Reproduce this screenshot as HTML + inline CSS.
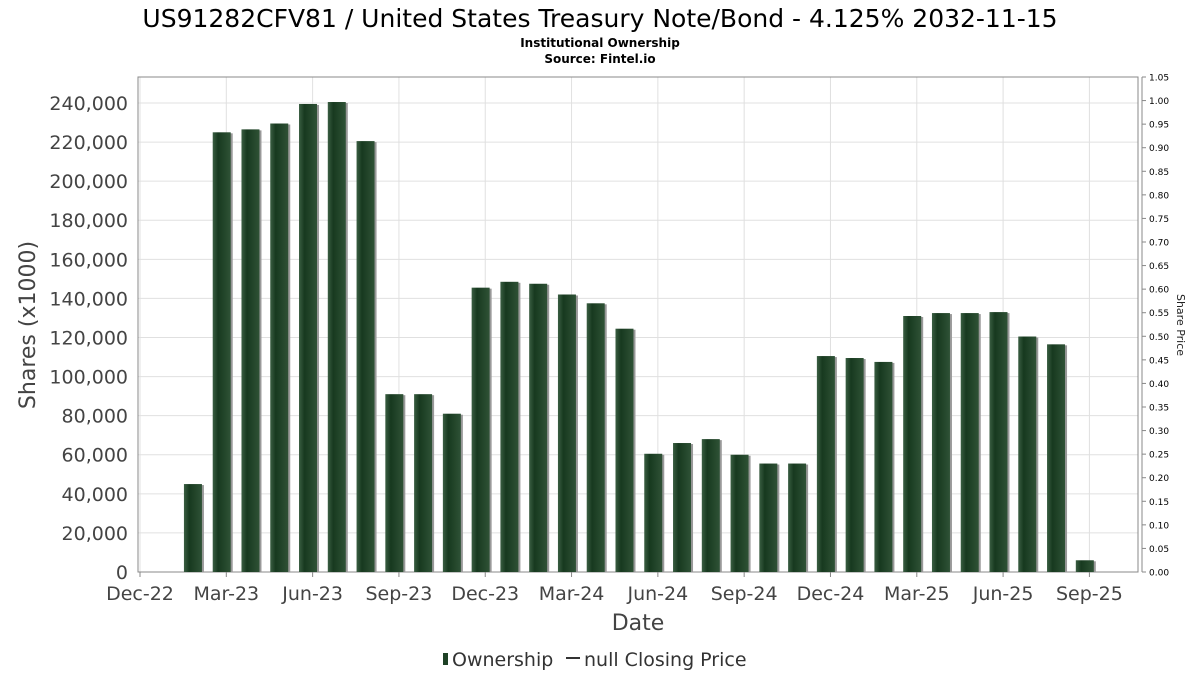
<!DOCTYPE html>
<html><head><meta charset="utf-8"><style>
body{margin:0;background:#fff;font-family:"DejaVu Sans","Liberation Sans",sans-serif}
</style></head><body>
<svg id="chart" width="1200" height="675" xmlns="http://www.w3.org/2000/svg" font-family="DejaVu Sans, Liberation Sans, sans-serif">
<defs>
<linearGradient id="bg" x1="0" x2="1" y1="0" y2="0">
<stop offset="0" stop-color="#3a5e42"/><stop offset="0.3" stop-color="#17391f"/><stop offset="1" stop-color="#2f5236"/>
</linearGradient>
</defs>
<text x="600" y="27" text-anchor="middle" font-size="25" fill="#000">US91282CFV81 / United States Treasury Note/Bond - 4.125% 2032-11-15</text>
<text x="600" y="47" text-anchor="middle" font-size="12" font-weight="bold">Institutional Ownership</text>
<text x="600" y="63" text-anchor="middle" font-size="12" font-weight="bold">Source: Fintel.io</text>
<g id="grid"></g>
<rect x="138" y="77" width="1000" height="495" fill="none" stroke="#888"/>
<g id="bars"></g>
<g id="axes"></g>
<text transform="translate(35,325) rotate(-90)" text-anchor="middle" font-size="22" fill="#444">Shares (x1000)</text>
<text transform="translate(1177,325) rotate(90)" text-anchor="middle" font-size="11" fill="#222">Share Price</text>
<text x="638" y="630" text-anchor="middle" font-size="22" fill="#444">Date</text>
<g>
<rect x="443" y="653" width="5" height="12" fill="#1e4226"/>
<text x="452" y="666" font-size="19" fill="#333">Ownership</text>
<line x1="566" y1="658" x2="580" y2="658" stroke="#333" stroke-width="2"/>
<text x="584" y="666" font-size="19" fill="#333">null Closing Price</text>
</g>
</svg>
<script>
const values=[45000,225000,226500,229500,239500,240500,220500,91000,91000,81000,145500,148500,147500,142000,137500,124500,60500,66000,68000,60000,55500,55500,110500,109500,107500,131000,132500,132500,133000,120500,116500,6000];
const yTicks=[0,20000,40000,60000,80000,100000,120000,140000,160000,180000,200000,220000,240000];
const y2Ticks=[0,0.05,0.1,0.15,0.2,0.25,0.3,0.35,0.4,0.45,0.5,0.55,0.6,0.65,0.7,0.75,0.8,0.85,0.9,0.95,1.0,1.05];
const xLabels=["Dec-22","Mar-23","Jun-23","Sep-23","Dec-23","Mar-24","Jun-24","Sep-24","Dec-24","Mar-25","Jun-25","Sep-25"];
const ns="http://www.w3.org/2000/svg";
const y=v=>572-v*(495/253300);
const y2=v=>572-v*(495/1.05);
const x=m=>140+m*28.77; // months since Dec-22
function mk(t,a,p){const e=document.createElementNS(ns,t);for(const k in a)e.setAttribute(k,a[k]);p.appendChild(e);return e;}
const grid=document.getElementById('grid'),bars=document.getElementById('bars'),axes=document.getElementById('axes');
yTicks.forEach(v=>{
 const l=mk('line',{x1:138,x2:1138,y1:y(v),y2:y(v),stroke:'#e0e0e0'},grid);
 
 
 const t=mk('text',{x:128,y:y(v)+7,'text-anchor':'end','font-size':19,fill:'#444'},axes);
 t.textContent=v.toLocaleString('en-US');
 
 
});
xLabels.forEach((s,i)=>{
 const l=mk('line',{x1:x(i*3),x2:x(i*3),y1:77,y2:572,stroke:'#e0e0e0'},grid);
 
 
 mk('line',{x1:x(i*3),x2:x(i*3),y1:572,y2:577,stroke:'#888'},axes);
 const t=mk('text',{x:x(i*3),y:600,'text-anchor':'middle','font-size':19,fill:'#444'},axes);
 t.textContent=s;
 
 
});
mk('line',{x1:1142,x2:1142,y1:77,y2:572,stroke:'#888'},axes);
y2Ticks.forEach(v=>{
 mk('line',{x1:1142,x2:1146,y1:y2(v),y2:y2(v),stroke:'#888'},axes);
 const t=mk('text',{x:1149,y:y2(v)+3.5,'font-size':9,fill:'#000'},axes);
 t.textContent=v.toFixed(2);
 
 
});
values.forEach((v,i)=>{
 const cx=x(i+1.84);
 const s=mk('rect',{x:cx-8,y:y(v)+1,width:19,height:572-y(v)-1,fill:'#999'},bars);
 
 
 const b=mk('rect',{x:cx-9,y:y(v),width:18,height:572-y(v),fill:'url(#bg)'},bars);
 
 
});
</script>
</body></html>
